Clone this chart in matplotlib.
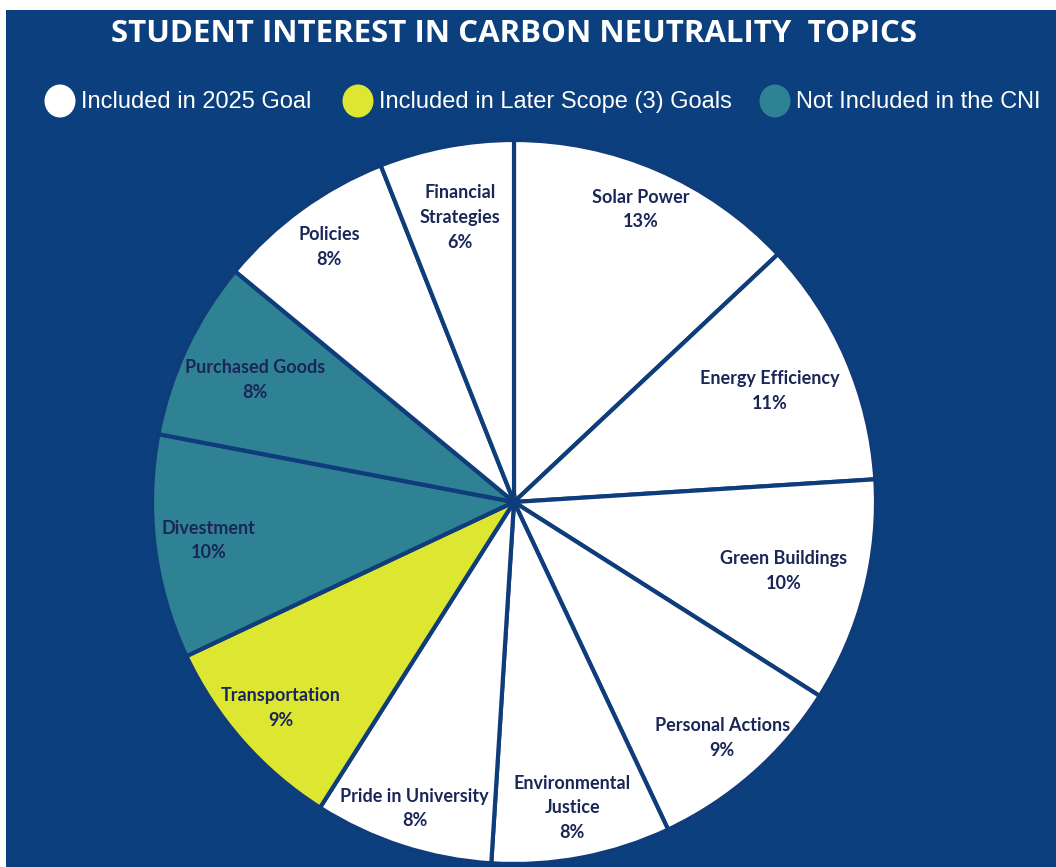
import matplotlib
matplotlib.use("Agg")
import matplotlib.pyplot as plt
from matplotlib.patches import Ellipse, Rectangle
import numpy as np

# topic shares, clockwise from 12 o'clock
topics = [
    "Solar Power",
    "Energy Efficiency",
    "Green Buildings",
    "Personal Actions",
    "Environmental\nJustice",
    "Pride in University",
    "Transportation",
    "Divestment",
    "Purchased Goods",
    "Policies",
    "Financial\nStrategies",
]
shares = [13, 11, 10, 9, 8, 8, 9, 10, 8, 8, 6]
groups = ["goal", "goal", "goal", "goal", "goal", "goal",
          "later", "cni", "cni", "goal", "goal"]

legend_names = ["Included in 2025 Goal", "Included in Later Scope (3) Goals",
                "Not Included in the CNI"]
legend_keys = ["goal", "later", "cni"]

BG = "#0C3F7D"
EDGE = "#0F3C7A"
INK = "#1B2658"
group_colors = {"goal": "#FFFFFF", "later": "#DDE630", "cni": "#2E8293"}

# how far out (fraction of radius) each label sits
label_r = [0.88, 0.77, 0.77, 0.87, 0.86, 0.89, 0.86, 0.85, 0.79, 0.87, 0.80]

W, H = 1056, 867
fig = plt.figure(figsize=(W / 100, H / 100), dpi=100)
fig.patch.set_facecolor("white")
ax = fig.add_axes([0, 0, 1, 1])

# blue panel with a thin white margin at top and left
ax.add_patch(Rectangle((6, 0), W - 6, H - 10, facecolor=BG, edgecolor="none", zorder=0))

cx, cy, R = 514, H - 502, 362
ax.pie(
    shares,
    colors=[group_colors[g] for g in groups],
    startangle=90,
    counterclock=False,
    center=(cx, cy),
    radius=R,
    wedgeprops=dict(edgecolor=EDGE, linewidth=3),
)

# labels placed along the middle of each wedge
start = 90.0
total = float(sum(shares))
for name, val, rr in zip(topics, shares, label_r):
    sweep = 360.0 * val / total
    mid = np.deg2rad(start - sweep / 2)
    start -= sweep
    x = cx + rr * R * np.cos(mid)
    y = cy + rr * R * np.sin(mid)
    ax.text(x, y, f"{name}\n{val}%", ha="center", va="center",
            fontsize=13, fontweight="bold", family="Lato", color=INK,
            linespacing=1.55, zorder=5)

ax.text(514, H - 34, "STUDENT INTEREST IN CARBON NEUTRALITY  TOPICS",
        ha="center", va="center", fontsize=22.5, fontweight="bold",
        family="Open Sans", color="white")

# legend row
marker_x = [60, 358, 775]
for mx, name, key in zip(marker_x, legend_names, legend_keys):
    ax.add_patch(Ellipse((mx, H - 101), 31, 33, facecolor=group_colors[key],
                         edgecolor="none", zorder=3))
    ax.text(mx + 21, H - 102, name, ha="left", va="center", fontsize=17,
            family="Liberation Sans", color="white")

ax.set_xlim(0, W)
ax.set_ylim(0, H)
ax.set_aspect("equal")
ax.axis("off")

fig.savefig("out.png", dpi=100, facecolor=fig.get_facecolor())
